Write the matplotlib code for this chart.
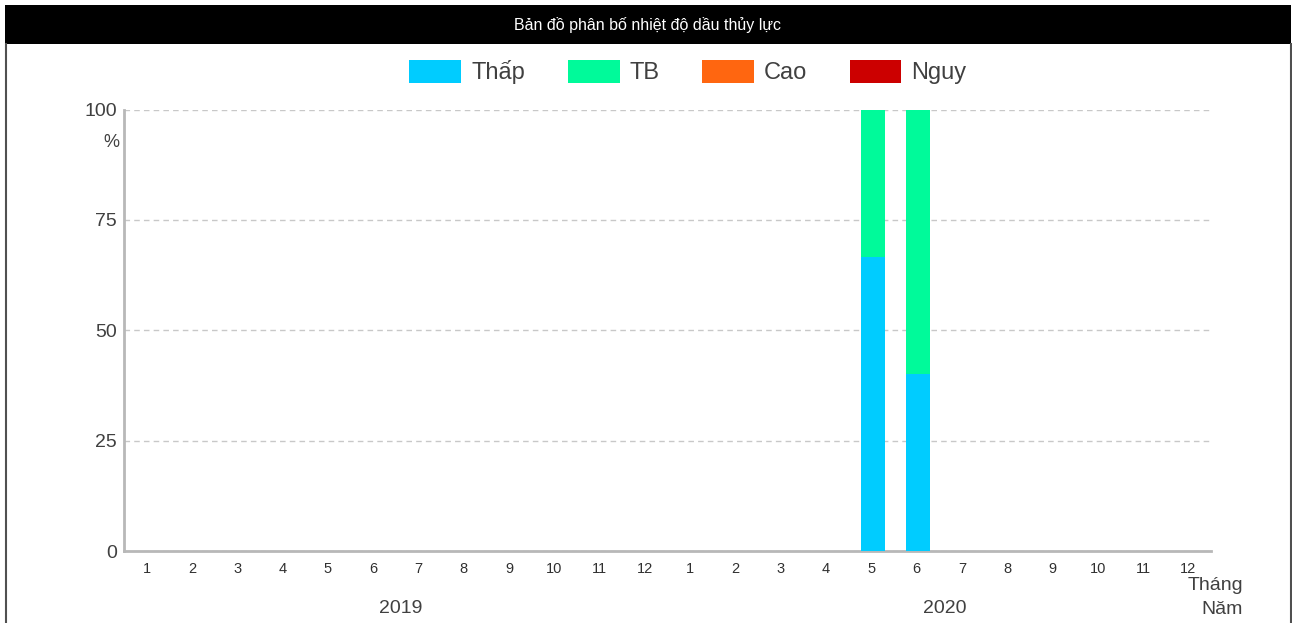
import matplotlib
matplotlib.use("Agg")
import matplotlib.pyplot as plt
from matplotlib.patches import Rectangle, Patch
from matplotlib.lines import Line2D
import numpy as np

plt.rcParams['font.family'] = ['Liberation Sans', 'DejaVu Sans']

title = "Bản đồ phân bố nhiệt độ dầu thủy lực"
months = ["1", "2", "3", "4", "5", "6", "7", "8", "9", "10", "11", "12",
          "1", "2", "3", "4", "5", "6", "7", "8", "9", "10", "11", "12"]
years = ["2019", "2020"]
series_names = ["Thấp", "TB", "Cao", "Nguy"]
series_colors = ["#00CCFF", "#00FA9A", "#FF6610", "#CC0000"]
thap = [0, 0, 0, 0, 0, 0, 0, 0, 0, 0, 0, 0, 0, 0, 0, 0, 66.7, 40, 0, 0, 0, 0, 0, 0]
tb = [0, 0, 0, 0, 0, 0, 0, 0, 0, 0, 0, 0, 0, 0, 0, 0, 33.3, 60, 0, 0, 0, 0, 0, 0]
cao = [0] * 24
nguy = [0] * 24
yticks = [0, 25, 50, 75, 100]

W, H = 1292, 623
fig = plt.figure(figsize=(W / 100, H / 100), dpi=100)
fig.patch.set_facecolor("white")

# title bar and border
fig.add_artist(Rectangle((5 / W, 1 - 44 / H), (1291 - 5) / W, 39 / H,
                         transform=fig.transFigure, facecolor="black", edgecolor="none"))
fig.add_artist(Line2D([5.5 / W, 5.5 / W], [0, 1 - 44 / H], transform=fig.transFigure,
                      color="#505050", lw=1.5))
fig.add_artist(Line2D([1290.5 / W, 1290.5 / W], [0, 1 - 44 / H], transform=fig.transFigure,
                      color="#505050", lw=1.5))
fig.text(648 / W, 1 - 25 / H, title, color="white", fontsize=11.5,
         ha="center", va="center")

ax = fig.add_axes([124 / W, 1 - 551 / H, (1211 - 124) / W, (551 - 109.5) / H])
x = np.arange(len(months))
data = [thap, tb, cao, nguy]
bottom = np.zeros(len(months))
for vals, col in zip(data, series_colors):
    v = np.array(vals, dtype=float)
    ax.bar(x + 0.03, v, width=0.53, bottom=bottom, color=col, zorder=3)
    bottom += v

ax.set_xlim(-0.5, len(months) - 0.5)
ax.set_ylim(0, 100)
ax.set_yticks(yticks)
ax.set_yticklabels([str(t) for t in yticks], fontsize=14, color="#404040")
ax.set_xticks(x)
ax.set_xticklabels(months, fontsize=10.5, color="#303030")
ax.tick_params(axis="both", length=0)
ax.tick_params(axis="x", pad=8)
ax.tick_params(axis="y", pad=5)
ax.grid(axis="y", color="#c8c8c8", linestyle=(0, (4, 3)), lw=1, zorder=0)
for s in ["top", "right"]:
    ax.spines[s].set_visible(False)
for s in ["left", "bottom"]:
    ax.spines[s].set_color("#b8b8b8")
    ax.spines[s].set_linewidth(2)

ax.text(-0.6, 92.5, "%", ha="right", va="center",
        fontsize=13, color="#404040")
for i, yr in enumerate(years):
    ax.text(5.62 + 12 * i, -13, yr, ha="center", va="center", fontsize=14, color="#404040",
            clip_on=False)
ax.text(1243 / W, 1 - 585 / H, "Tháng", transform=fig.transFigure, ha="right",
        va="center", fontsize=14, color="#404040")
ax.text(1243 / W, 1 - 610 / H, "Năm", transform=fig.transFigure, ha="right",
        va="center", fontsize=14, color="#404040")

handles = [Patch(facecolor=c, edgecolor="none") for c in series_colors]
fig.legend(handles, series_names, loc="center", bbox_to_anchor=(688 / W, 1 - 72 / H),
           ncol=4, frameon=False, fontsize=17, handlelength=2.2, handleheight=1.15,
           columnspacing=1.8, handletextpad=0.42, labelcolor="#404040")

fig.savefig("out.png", dpi=100)
